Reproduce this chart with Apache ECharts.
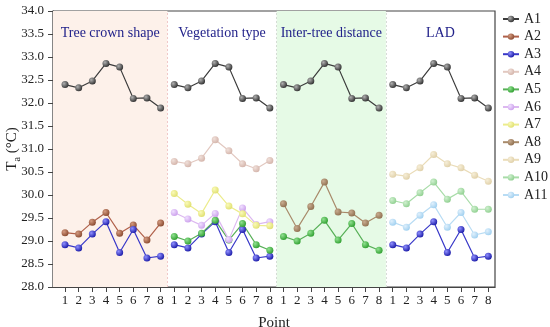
<!DOCTYPE html>
<html>
<head>
<meta charset="utf-8">
<script src="https://cdn.jsdelivr.net/npm/echarts@6/dist/echarts.min.js"></script>
<style>html,body{margin:0;padding:0;background:#fff}#c{width:550px;height:327px}</style>
</head>
<body>
<div id="c"></div>
<script>
const pointLabels = ['1','2','3','4','5','6','7','8'];
const panelNames = ['Tree crown shape','Vegetation type','Inter-tree distance','LAD'];
const yTicks = [28,28.5,29,29.5,30,30.5,31,31.5,32,32.5,33,33.5,34];

const A1  = [32.40, 32.33, 32.48, 32.86, 32.78, 32.10, 32.11, 31.89];
const A2  = [29.18, 29.15, 29.41, 29.62, 29.17, 29.35, 29.02, 29.39];
const A3  = [28.92, 28.85, 29.15, 29.42, 28.75, 29.25, 28.63, 28.67];
const A4  = [30.73, 30.68, 30.80, 31.20, 30.96, 30.68, 30.57, 30.75];
const A5  = [29.10, 29.00, 29.17, 29.45, 29.02, 29.38, 28.92, 28.80];
const A6  = [29.62, 29.48, 29.34, 29.60, 29.03, 29.72, 29.36, 29.42];
const A7  = [30.03, 29.80, 29.60, 30.11, 29.76, 29.59, 29.34, 29.33];
const A8  = [29.81, 29.27, 29.75, 30.28, 29.63, 29.61, 29.39, 29.56];
const A9  = [30.45, 30.41, 30.59, 30.88, 30.68, 30.59, 30.43, 30.30];
const A10 = [29.88, 29.81, 30.05, 30.28, 29.91, 30.08, 29.69, 29.69];
const A11 = [29.41, 29.30, 29.56, 29.79, 29.30, 29.62, 29.13, 29.20];

// which panels (0..3) each series is drawn in
const seriesDefs = [
  {name:'A1',  values:A1,  panels:[0,1,2,3], line:'#3c3c3c', light:'#b0b0b0', dark:'#303030'},
  {name:'A2',  values:A2,  panels:[0],       line:'#b0604a', light:'#d49a80', dark:'#8a4a30'},
  {name:'A3',  values:A3,  panels:[0,1,3],   line:'#3838c8', light:'#9090ff', dark:'#1a1aa8'},
  {name:'A4',  values:A4,  panels:[1],       line:'#e2c8c0', light:'#f0e0da', dark:'#d4b4aa'},
  {name:'A5',  values:A5,  panels:[1,2],     line:'#58b058', light:'#90e090', dark:'#30a030'},
  {name:'A6',  values:A6,  panels:[1],       line:'#dcb8f0', light:'#f0e0ff', dark:'#cca0ec'},
  {name:'A7',  values:A7,  panels:[1],       line:'#ecec8c', light:'#fafab8', dark:'#e0e070'},
  {name:'A8',  values:A8,  panels:[2],       line:'#a88a6a', light:'#c8ac90', dark:'#907050'},
  {name:'A9',  values:A9,  panels:[3],       line:'#eadcb8', light:'#f6eed8', dark:'#e0d0a8'},
  {name:'A10', values:A10, panels:[3],       line:'#a8dca8', light:'#d0f0d0', dark:'#90d090'},
  {name:'A11', values:A11, panels:[3],       line:'#b8dcf4', light:'#e0f0fc', dark:'#a0d0f0'}
];

const nPts = pointLabels.length;
const tickVals = [];
for (let p = 0; p < panelNames.length; p++) for (let i = 0; i < nPts; i++) tickVals.push(p*nPts + i + 1);

const serif = 'Liberation Serif, Times New Roman, serif';

const series = seriesDefs.map(d => {
  const data = [];
  d.panels.forEach(p => {
    d.values.forEach((v, i) => data.push([p*nPts + i + 1, v]));
    data.push([p*nPts + nPts + 0.5, '-']);
  });
  return {
    name: d.name, type: 'line', data: data,
    symbol: 'circle', symbolSize: 7,
    lineStyle: {color: d.line, width: 1.2},
    itemStyle: {
      color: {type:'radial', x:0.35, y:0.35, r:0.7,
        colorStops:[{offset:0,color:d.light},{offset:1,color:d.dark}]},
      borderWidth: 0
    },
    emphasis: {disabled: true},
    z: 3
  };
});

// panel backgrounds, titles, dividers
const bounds = [0.12, 8.5, 16.5, 24.5, 32.49];
const bgColors = ['#fdf1ea', 'rgba(255,255,255,0)', '#e6fae6', 'rgba(255,255,255,0)'];
series.unshift({
  name: 'bg', type: 'line', data: [], silent: true, z: 1,
  markArea: {
    silent: true,
    label: {show: true, position: 'insideTop', distance: 15,
      fontFamily: serif, fontSize: 14, color: '#22228a'},
    data: panelNames.map((n, k) => [
      {name: n, xAxis: bounds[k], yAxis: 28, itemStyle: {color: bgColors[k]}},
      {xAxis: bounds[k+1], yAxis: 34}
    ])
  },
  markLine: {
    silent: true, symbol: 'none', label: {show: false},
    lineStyle: {type: [2, 2], width: 1, color: '#d8d0d0'},
    data: [
      {xAxis: bounds[1], lineStyle: {color: '#f0c8c8'}},
      {xAxis: bounds[2], lineStyle: {color: '#d4dcd4'}},
      {xAxis: bounds[3], lineStyle: {color: '#d8dcd8'}}
    ]
  }
});

const chart = echarts.init(document.getElementById('c'), null, {renderer: 'canvas'});
chart.setOption({
  animation: false,
  backgroundColor: '#ffffff',
  grid: {left: 53, right: 55, top: 11, bottom: 40, containLabel: false, outerBoundsMode: 'none',
    show: true, borderColor: '#444', borderWidth: 1.2, backgroundColor: 'transparent'},
  legend: {
    data: seriesDefs.map(d => d.name),
    orient: 'vertical', left: 502, top: 12, padding: 0,
    itemWidth: 16, itemHeight: 8, itemGap: 3.6,
    textStyle: {fontFamily: serif, fontSize: 14, color: '#222'},
    selectedMode: false
  },
  xAxis: {
    type: 'value', min: bounds[0], max: bounds[4],
    name: 'Point', nameLocation: 'middle', nameGap: 29, nameMoveOverlap: false,
    nameTextStyle: {fontFamily: serif, fontSize: 15, color: '#222'},
    axisLine: {show: true, lineStyle: {color: '#444', width: 1.2}},
    axisTick: {show: true, customValues: tickVals, length: 5, lineStyle: {color: '#444'}},
    axisLabel: {show: true, customValues: tickVals, margin: 7,
      formatter: v => pointLabels[(Math.round(v) - 1) % nPts],
      fontFamily: serif, fontSize: 13, color: '#222'},
    splitLine: {show: false}
  },
  yAxis: {
    type: 'value', min: yTicks[0], max: yTicks[yTicks.length-1], interval: 0.5,
    name: 'T{s|a} (°C)', nameLocation: 'middle', nameGap: 31, nameMoveOverlap: false,
    nameTextStyle: {fontFamily: serif, fontSize: 15, color: '#222',
      rich: {s: {fontFamily: serif, fontSize: 10, color: '#222', padding: [9, 0, 0, 0]}}},
    axisLine: {show: true, lineStyle: {color: '#444', width: 1.2}},
    axisTick: {show: true, length: 5, lineStyle: {color: '#444'}},
    axisLabel: {formatter: v => v.toFixed(1), fontFamily: serif, fontSize: 13, color: '#222', margin: 9},
    splitLine: {show: false}
  },
  series: series
});
</script>
</body>
</html>
